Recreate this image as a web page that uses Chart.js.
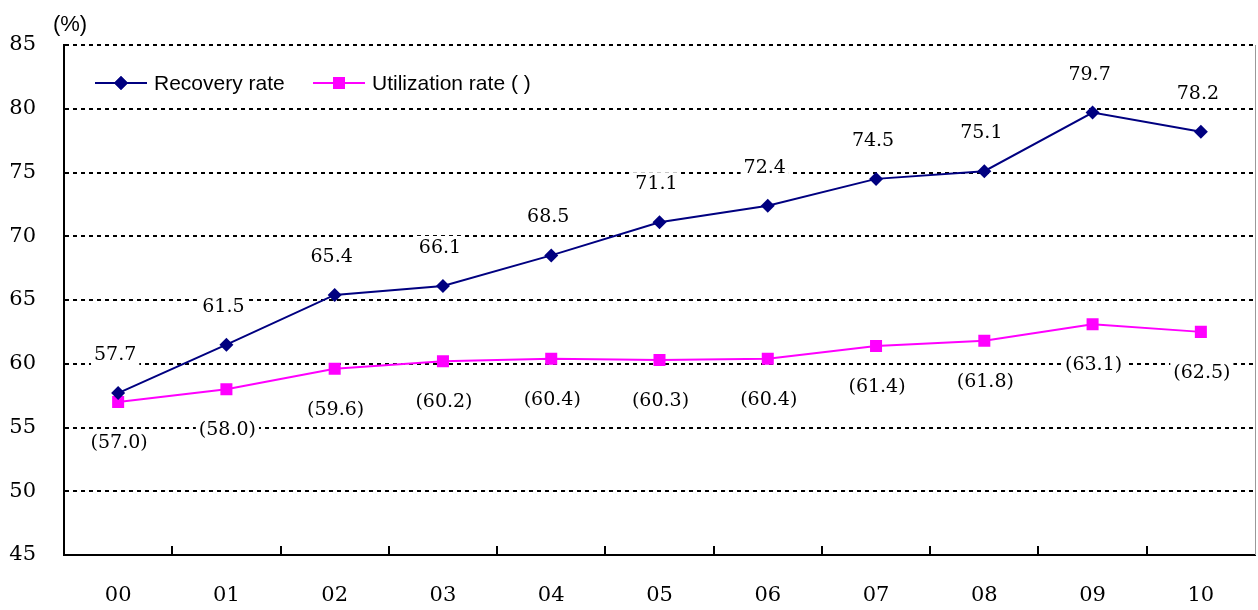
<!DOCTYPE html>
<html>
<head>
<meta charset="utf-8">
<script src="https://cdn.jsdelivr.net/npm/chart.js@4"></script>
<style>
  html, body { margin: 0; padding: 0; background: #fff; }
  #wrap { width: 1258px; height: 610px; }
</style>
</head>
<body>
<div id="wrap"><canvas id="chart" width="1258" height="610"></canvas></div>
<script>
// Données du graphique
const years = ['00', '01', '02', '03', '04', '05', '06', '07', '08', '09', '10'];
const recoveryRate = [57.7, 61.5, 65.4, 66.1, 68.5, 71.1, 72.4, 74.5, 75.1, 79.7, 78.2];
const utilizationRate = [57.0, 58.0, 59.6, 60.2, 60.4, 60.3, 60.4, 61.4, 61.8, 63.1, 62.5];
const seriesNames = ['Recovery rate', 'Utilization rate ( )'];
const yTicks = [45, 50, 55, 60, 65, 70, 75, 80, 85];

const NAVY = '#000080';
const PINK = '#FF00FF';
const SERIF = '"DejaVu Serif", "Liberation Serif", serif';
const SANS = '"Liberation Sans", Arial, sans-serif';

// Plugin : étiquettes, légende, repères d'axe
const decorPlugin = {
  id: 'decor',
  afterDatasetsDraw(chart) {
    const ctx = chart.ctx;
    const area = chart.chartArea;
    const xs = chart.scales.x;

    ctx.save();
    // bordure droite grise
    ctx.strokeStyle = '#999';
    ctx.lineWidth = 1;
    ctx.beginPath();
    ctx.moveTo(area.right + 0.5, area.top);
    ctx.lineTo(area.right + 0.5, area.bottom);
    ctx.stroke();

    // petites graduations entre les catégories
    ctx.strokeStyle = '#000';
    ctx.lineWidth = 2;
    for (let i = 1; i < years.length; i++) {
      const x = Math.round(xs.getPixelForValue(i - 0.5));
      ctx.beginPath();
      ctx.moveTo(x, area.bottom);
      ctx.lineTo(x, area.bottom - 9);
      ctx.stroke();
    }

    // étiquettes de valeurs
    ctx.font = '19px ' + SERIF;
    ctx.textAlign = 'center';
    ctx.textBaseline = 'middle';
    const drawLabel = (text, x, y) => {
      const w = ctx.measureText(text).width;
      ctx.fillStyle = '#fff';
      ctx.fillRect(x - w / 2 - 3, y - 12, w + 6, 24);
      ctx.fillStyle = '#000';
      ctx.fillText(text, x, y);
    };
    chart.getDatasetMeta(0).data.forEach((pt, i) => {
      drawLabel(recoveryRate[i].toFixed(1), pt.x - 3, pt.y - 38);
    });
    chart.getDatasetMeta(1).data.forEach((pt, i) => {
      drawLabel('(' + utilizationRate[i].toFixed(1) + ')', pt.x + 1, pt.y + 41);
    });

    // légende dans la zone du graphique
    const legendY = 83;
    const items = [
      { x: 95, color: NAVY, style: 'rectRot', r: 7, text: seriesNames[0] },
      { x: 313, color: PINK, style: 'rect', r: 8.5, text: seriesNames[1] }
    ];
    ctx.font = '21px ' + SANS;
    ctx.textAlign = 'left';
    items.forEach(it => {
      ctx.strokeStyle = it.color;
      ctx.lineWidth = 2;
      ctx.beginPath();
      ctx.moveTo(it.x, legendY);
      ctx.lineTo(it.x + 52, legendY);
      ctx.stroke();
      ctx.fillStyle = it.color;
      Chart.helpers.drawPoint(ctx, { pointStyle: it.style, radius: it.r, borderWidth: 0 }, it.x + 26, legendY);
      ctx.fill();
      ctx.fillStyle = '#000';
      ctx.fillText(it.text, it.x + 59, legendY + 1);
    });

    // unité
    ctx.font = '22px ' + SANS;
    ctx.textAlign = 'center';
    ctx.fillText('(%)', 70, 25);
    ctx.restore();
  }
};

new Chart(document.getElementById('chart'), {
  type: 'line',
  data: {
    labels: years,
    datasets: [
      {
        label: seriesNames[0],
        data: recoveryRate,
        borderColor: NAVY,
        backgroundColor: NAVY,
        borderWidth: 2,
        pointStyle: 'rectRot',
        pointRadius: 7,
        pointBorderWidth: 0,
        tension: 0
      },
      {
        label: seriesNames[1],
        data: utilizationRate,
        borderColor: PINK,
        backgroundColor: PINK,
        borderWidth: 2,
        pointStyle: 'rect',
        pointRadius: 8.5,
        pointBorderWidth: 0,
        tension: 0
      }
    ]
  },
  options: {
    responsive: false,
    animation: false,
    layout: { autoPadding: false, padding: { top: 45, right: 3, left: 0, bottom: 0 } },
    plugins: {
      legend: { display: false },
      tooltip: { enabled: false }
    },
    scales: {
      x: {
        offset: true,
        grid: { display: false, offset: true, drawTicks: true, tickLength: 26 },
        border: { display: true, color: '#000', width: 2 },
        ticks: {
          color: '#000',
          font: { family: SERIF, size: 21 },
          padding: 2,
          maxRotation: 0
        },
        afterFit(scale) {
          scale.height = 55;
          scale.paddingLeft = 0;
          scale.paddingRight = 0;
        }
      },
      y: {
        min: 45,
        max: 85,
        afterBuildTicks(scale) { scale.ticks = yTicks.map(v => ({ value: v })); },
        grid: {
          color: ctx => (ctx.tick && ctx.tick.value === 45 ? 'rgba(0,0,0,0)' : '#000'),
          lineWidth: 2,
          drawTicks: false
        },
        border: { display: true, color: '#000', width: 2, dash: [4, 4] },
        ticks: {
          color: '#000',
          font: { family: SERIF, size: 21 },
          padding: 28
        },
        afterFit(scale) { scale.width = 64; }
      }
    }
  },
  plugins: [decorPlugin]
});
</script>
</body>
</html>
